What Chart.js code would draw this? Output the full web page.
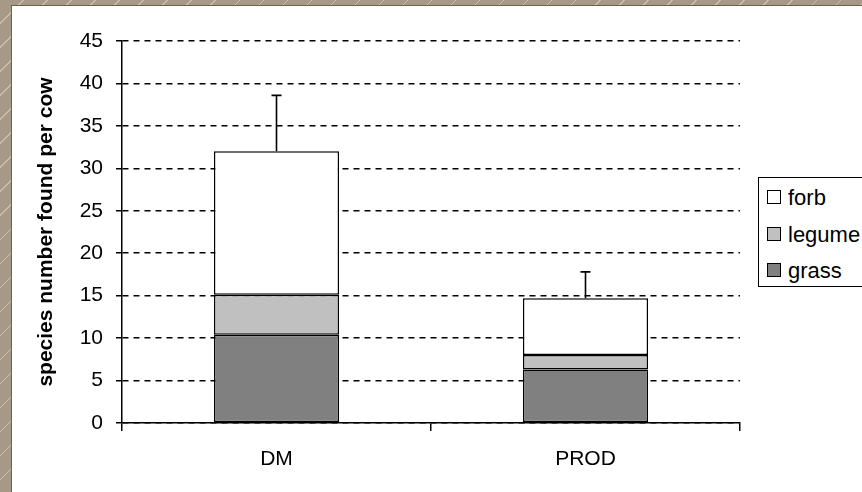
<!DOCTYPE html>
<html><head><meta charset="utf-8">
<script src="https://cdn.jsdelivr.net/npm/chart.js@4/dist/chart.umd.min.js"></script>
<style>
html,body{margin:0;padding:0;width:862px;height:492px;overflow:hidden;}
body{position:relative;background-color:#a69a86;background-image:repeating-linear-gradient(135deg, rgba(255,255,255,0) 0px, rgba(255,255,255,0) 16px, rgba(230,222,205,0.55) 16px, rgba(230,222,205,0.55) 17px);font-family:'Liberation Sans',Arial,sans-serif;}
#panel{position:absolute;left:11px;top:5px;width:851px;height:487px;background:#fff;border-left:1px solid #6e604d;border-top:1px solid #6e604d;overflow:hidden;}
#wrap{position:absolute;left:0;top:0;width:850px;height:486px;}
#legend{position:absolute;left:746px;top:171px;width:130px;height:110px;border:1px solid #000;background:#fff;box-sizing:border-box;}
.li{position:absolute;left:8px;height:26px;font-size:22px;line-height:26px;color:#000;white-space:nowrap;}
.sw{display:inline-block;width:12px;height:12px;border:1px solid #000;vertical-align:middle;margin-right:7px;position:relative;top:-2px;}
</style></head>
<body>
<div id="panel">
  <div id="wrap"><canvas id="c" width="850" height="486"></canvas></div>
  <div id="legend"></div>
</div>
<script>
const categories = ['DM', 'PROD'];
const grass = [10.4, 6.3];
const legume = [4.7, 1.7];
const forb = [16.9, 6.7];
const forbError = [6.6, 3.1];
const seriesNames = ['grass', 'legume', 'forb'];
const seriesColors = ['#808080', '#c0c0c0', '#ffffff'];
const yMin = 0, yMax = 45, yStep = 5;
const yTitle = 'species number found per cow';

const errorBars = {
  id: 'errorBars',
  afterDatasetsDraw(chart) {
    const meta = chart.getDatasetMeta(2);
    const ys = chart.scales.y;
    const ctx = chart.ctx;
    ctx.save();
    ctx.strokeStyle = '#000';
    ctx.lineWidth = 1.6;
    meta.data.forEach((bar, i) => {
      const total = grass[i] + legume[i] + forb[i];
      const yTop = ys.getPixelForValue(total + forbError[i]);
      ctx.beginPath();
      ctx.moveTo(bar.x, bar.y);
      ctx.lineTo(bar.x, yTop);
      ctx.moveTo(bar.x - 5, yTop);
      ctx.lineTo(bar.x + 5, yTop);
      ctx.stroke();
    });
    ctx.restore();
  }
};

const mk = (i, data) => ({
  label: seriesNames[i], data, backgroundColor: seriesColors[i],
  borderColor: '#000', borderWidth: 1.5, borderSkipped: false,
  barPercentage: 0.405, categoryPercentage: 1.0, stack: 's'
});

const chart = new Chart(document.getElementById('c'), {
  type: 'bar',
  data: { labels: categories, datasets: [mk(0, grass), mk(1, legume), mk(2, forb)] },
  options: {
    responsive: false, animation: false, devicePixelRatio: 1,
    layout: { padding: { top: 35, right: 122, left: 0, bottom: 0 } },
    plugins: { legend: { display: false }, tooltip: { enabled: false } },
    scales: {
      x: {
        stacked: true,
        grid: { offset: true, drawOnChartArea: false, drawTicks: true, tickLength: 8, color: '#000', lineWidth: 1.5 },
        border: { color: '#000', width: 1.5 },
        ticks: { color: '#000', font: { family: "'Liberation Sans', Arial", size: 21 }, padding: 16 },
        afterFit(s) { s.height = 69; }
      },
      y: {
        stacked: true, min: yMin, max: yMax,
        ticks: { stepSize: yStep, color: '#000', font: { family: "'Liberation Sans', Arial", size: 21 }, padding: 13 },
        grid: { color: '#000', lineWidth: 1.5, tickLength: 6, tickColor: '#000', tickBorderDash: [] },
        border: { color: '#000', width: 1.5, dash: [6, 5] },
        title: { display: true, text: yTitle, color: '#000', font: { family: "'Liberation Sans', Arial", size: 21, weight: 'bold' }, padding: { top: 22, bottom: 0 } },
        afterFit(s) { s.width = 110; }
      }
    }
  },
  plugins: [errorBars]
});

const leg = document.getElementById('legend');
[2, 1, 0].forEach((k, r) => {
  const d = document.createElement('div');
  d.className = 'li';
  d.style.top = (7 + r * 36.5) + 'px';
  d.innerHTML = '<span class="sw" style="background:' + seriesColors[k] + '"></span>' + seriesNames[k];
  leg.appendChild(d);
});
</script>
</body></html>
